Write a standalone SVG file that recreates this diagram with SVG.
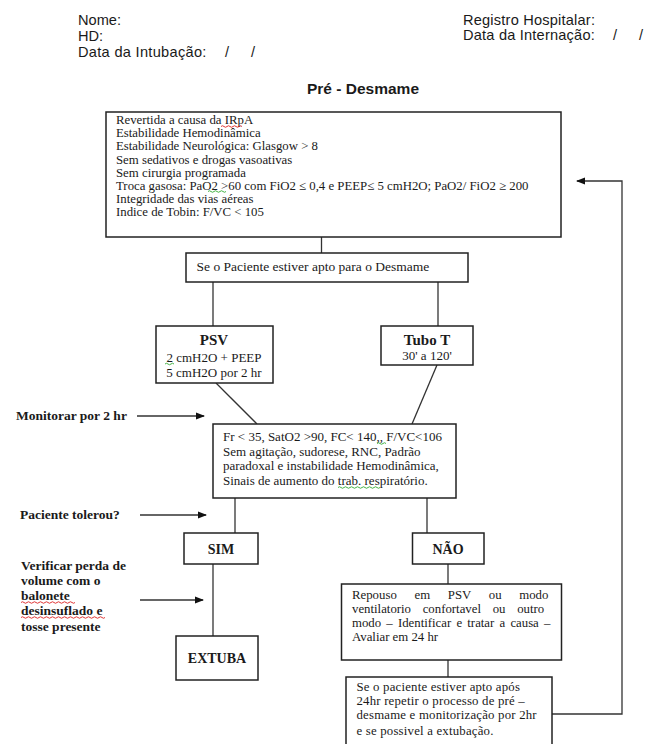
<svg xmlns="http://www.w3.org/2000/svg" width="654" height="744" viewBox="0 0 654 744">
<style>
.hdr{font-family:"Liberation Sans",Arial,sans-serif;font-size:14.6px;fill:#1a1a1a}
.ttl{font-family:"Liberation Sans",Arial,sans-serif;font-size:15.5px;font-weight:bold;fill:#1a1a1a}
.box{fill:#fff;stroke:#222;stroke-width:1.5}
.t{font-family:"Liberation Serif","Times New Roman",serif;font-size:13px;fill:#1a1a1a}
.t1{font-family:"Liberation Serif","Times New Roman",serif;font-size:12.8px;fill:#1a1a1a}
.b{font-family:"Liberation Serif","Times New Roman",serif;font-weight:bold;fill:#1a1a1a}
.lbl{font-family:"Liberation Serif","Times New Roman",serif;font-weight:bold;font-size:13.5px;fill:#1a1a1a}
.ln{stroke:#333;stroke-width:1.3;fill:none}
.sqr{stroke:#d22;stroke-width:0.9;fill:none}
.sqg{stroke:#3a3;stroke-width:0.9;fill:none}
</style>
<defs>
<marker id="ah" markerUnits="userSpaceOnUse" markerWidth="9" markerHeight="8" refX="8" refY="4" orient="auto">
<path d="M0,0.5 L9,4 L0,7.5 Z" fill="#111"/>
</marker>
</defs>

<g id="header">
<text class="hdr" x="78" y="25">Nome:</text>
<text class="hdr" x="78" y="40.8">HD:</text>
<text class="hdr" x="78" y="56.6" style="letter-spacing:0.3px">Data da Intubação:</text>
<text class="hdr" x="225" y="56.6">/</text>
<text class="hdr" x="251" y="56.6">/</text>
<text class="hdr" x="463" y="24.5" style="letter-spacing:0.2px">Registro Hospitalar:</text>
<text class="hdr" x="463" y="40.3" style="letter-spacing:0.2px">Data da Internação:</text>
<text class="hdr" x="613" y="40.3">/</text>
<text class="hdr" x="639" y="40.3">/</text>
<text class="ttl" x="307" y="94">Pré - Desmame</text>
</g>

<g id="connectors">
<line class="ln" x1="321.5" y1="237" x2="321.5" y2="253"/>
<line class="ln" x1="213" y1="282" x2="213" y2="326"/>
<line class="ln" x1="438" y1="282" x2="438" y2="326"/>
<line class="ln" x1="216" y1="383" x2="257" y2="424"/>
<line class="ln" x1="437" y1="365" x2="412" y2="424"/>
<line class="ln" x1="235" y1="498" x2="235" y2="533"/>
<line class="ln" x1="427" y1="498" x2="427" y2="533"/>
<line class="ln" x1="213" y1="564" x2="213" y2="636"/>
<line class="ln" x1="448" y1="564" x2="448" y2="584"/>
<line class="ln" x1="448" y1="660" x2="448" y2="677"/>
<polyline class="ln" points="552,714 622,714 622,181 577,181" marker-end="url(#ah)"/>
<line class="ln" x1="137" y1="416" x2="204" y2="416" marker-end="url(#ah)"/>
<line class="ln" x1="140" y1="515" x2="206" y2="515" marker-end="url(#ah)"/>
<line class="ln" x1="140" y1="600" x2="203" y2="600" marker-end="url(#ah)"/>
</g>

<g id="criteria">
<rect class="box" x="106" y="112" width="455" height="125"/>
<text class="t1" x="116" y="124">Revertida a causa da IRpA</text>
<text class="t1" x="116" y="137">Estabilidade Hemodinâmica</text>
<text class="t1" x="116" y="150">Estabilidade Neurológica: Glasgow &gt; 8</text>
<text class="t1" x="116" y="163.5">Sem sedativos e drogas vasoativas</text>
<text class="t1" x="116" y="176.5">Sem cirurgia programada</text>
<text class="t1" x="116" y="189.5">Troca gasosa: PaO2 &gt;60 com FiO2 ≤ 0,4 e PEEP≤ 5 cmH2O; PaO2/ FiO2 ≥ 200</text>
<text class="t1" x="116" y="203">Integridade das vias aéreas</text>
<text class="t1" x="116" y="216">Indice de Tobin: F/VC &lt; 105</text>
<path class="sqr" d="M221,126.5 q1.5,-1.5 3,0 t3,0 t3,0 t3,0 t3,0 t3,0 t3,0"/>
<path class="sqg" d="M208,191.5 q1.5,-1.5 3,0 t3,0 t3,0 t3,0 t3,0 t3,0"/>
</g>

<g id="apto">
<rect class="box" x="186" y="253" width="282" height="29"/>
<text class="t" x="196.5" y="271" style="font-size:13.5px">Se o Paciente estiver apto para o Desmame</text>
</g>

<g id="psv">
<rect class="box" x="156" y="326" width="117" height="57"/>
<text class="b" x="214" y="345" text-anchor="middle" style="font-size:15px">PSV</text>
<text class="t" x="214" y="361.5" text-anchor="middle">2 cmH2O + PEEP</text>
<text class="t" x="214" y="377" text-anchor="middle">5 cmH2O por 2 hr</text>
<path class="sqg" d="M165,364 q1.5,-1.5 3,0 t3,0 t3,0"/>
</g>

<g id="tubo">
<rect class="box" x="381" y="326" width="92" height="39"/>
<text class="b" x="427" y="345" text-anchor="middle" style="font-size:15px">Tubo T</text>
<text class="t" x="427" y="360" text-anchor="middle">30' a 120'</text>
</g>

<g id="monitor">
<rect class="box" x="213" y="424" width="243" height="74"/>
<text class="t" x="223" y="441">Fr &lt; 35, SatO2 &gt;90, FC&lt; 140,, F/VC&lt;106</text>
<text class="t" x="223" y="455.5">Sem agitação, sudorese, RNC, Padrão</text>
<text class="t" x="223" y="470">paradoxal e instabilidade Hemodinâmica,</text>
<text class="t" x="223" y="485">Sinais de aumento do trab. respiratório.</text>
<path class="sqg" d="M377,443.5 q1.5,-1.5 3,0 t3,0 t3,0"/>
<path class="sqg" d="M338,487.5 q1.5,-1.5 3,0 t3,0 t3,0 t3,0 t3,0 t3,0 t3,0 t3,0 t3,0 t3,0 t3,0 t3,0 t3,0 t3,0"/>
</g>

<g id="labels">
<text class="lbl" x="16" y="420">Monitorar por 2 hr</text>
<text class="lbl" x="20" y="519">Paciente tolerou?</text>
<text class="lbl" x="21" y="570">Verificar perda de</text>
<text class="lbl" x="21" y="585">volume com o</text>
<text class="lbl" x="21" y="600">balonete</text>
<text class="lbl" x="21" y="615">desinsuflado e</text>
<text class="lbl" x="21" y="631">tosse presente</text>
<path class="sqr" d="M21,602.5 q1.5,-1.5 3,0 t3,0 t3,0 t3,0 t3,0 t3,0 t3,0 t3,0 t3,0 t3,0 t3,0 t3,0 t3,0 t3,0 t3,0 t3,0 t3,0 t3,0"/>
<path class="sqr" d="M21,617.5 q1.5,-1.5 3,0 t3,0 t3,0 t3,0 t3,0 t3,0 t3,0 t3,0 t3,0 t3,0 t3,0 t3,0 t3,0 t3,0 t3,0 t3,0 t3,0 t3,0 t3,0 t3,0 t3,0 t3,0 t3,0 t3,0 t3,0 t3,0 t3,0 t3,0"/>
</g>

<g id="sim">
<rect class="box" x="184" y="533" width="74" height="31"/>
<text class="b" x="221" y="554" text-anchor="middle" style="font-size:14px">SIM</text>
</g>

<g id="nao">
<rect class="box" x="412.5" y="533" width="71.5" height="31"/>
<text class="b" x="448" y="554" text-anchor="middle" style="font-size:14px">NÃO</text>
</g>

<g id="extuba">
<rect class="box" x="176" y="636" width="82" height="44"/>
<text class="b" x="217" y="663" text-anchor="middle" style="font-size:14px">EXTUBA</text>
</g>

<g id="repouso">
<rect class="box" x="341.5" y="584" width="220" height="76"/>
<text class="t" x="352" y="599" style="font-size:12.8px;word-spacing:14.5px">Repouso em PSV ou modo</text>
<text class="t" x="352" y="613" style="font-size:12.8px;word-spacing:8.5px">ventilatorio confortavel ou outro</text>
<text class="t" x="352" y="627" style="font-size:12.8px;word-spacing:2px">modo – Identificar e tratar a causa –</text>
<text class="t" x="352" y="641" style="font-size:12.8px">Avaliar em 24 hr</text>
</g>

<g id="repetir">
<rect class="box" x="346" y="677" width="206" height="70"/>
<text class="t" x="356.5" y="691" style="font-size:12.8px;letter-spacing:0.2px">Se o paciente estiver apto após</text>
<text class="t" x="356.5" y="705" style="font-size:12.8px;letter-spacing:0.2px">24hr repetir o processo de pré –</text>
<text class="t" x="356.5" y="719" style="font-size:12.8px;letter-spacing:0.2px">desmame e monitorização por 2hr</text>
<text class="t" x="356.5" y="734.5" style="font-size:12.8px;letter-spacing:0.2px">e se possivel a extubação.</text>
</g>
</svg>
